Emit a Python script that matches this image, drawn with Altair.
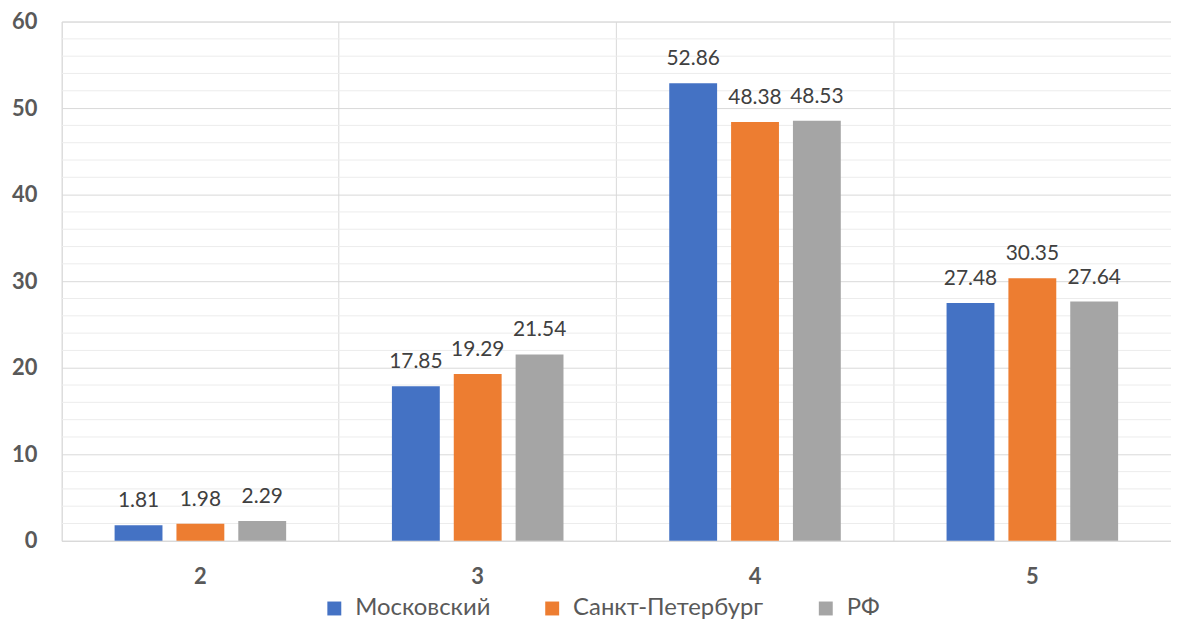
import altair as alt
import pandas as pd

categories = ["2", "3", "4", "5"]
series = ["Московский", "Санкт-Петербург", "РФ"]
moscow = [1.81, 17.85, 52.86, 27.48]
spb = [1.98, 19.29, 48.38, 30.35]
rf = [2.29, 21.54, 48.53, 27.64]
colors = ["#4472C4", "#ED7D31", "#A5A5A5"]
major_ticks = [0, 10, 20, 30, 40, 50, 60]
minor_ticks = [v for v in range(2, 60, 2) if v % 10 != 0]

rows = []
for name, vals in zip(series, [moscow, spb, rf]):
    for c, v in zip(categories, vals):
        rows.append({"cat": c, "series": name, "value": v, "label": f"{v:.2f}"})
df = pd.DataFrame(rows)
minor_df = pd.DataFrame({"value": minor_ticks})

FONT = "Lato"
ysc = alt.Scale(domain=[0, 60], nice=False, zero=True)

yaxis = alt.Axis(
    title=None, values=major_ticks, grid=True, gridColor="#d9d9d9",
    ticks=False, domain=False, labelFont=FONT, labelFontSize=22,
    labelFontWeight="bold", labelColor="#595959", labelPadding=25,
)

minor = alt.Chart(minor_df).mark_rule(color="#ececec", strokeWidth=1).encode(
    y=alt.Y("value:Q", scale=ysc, axis=yaxis, title=None)
)

xenc = alt.X(
    "cat:N",
    sort=categories,
    scale=alt.Scale(paddingInner=0, paddingOuter=0),
    title=None,
    axis=alt.Axis(
        title=None, labelAngle=0, grid=True, bandPosition=0, gridColor="#d9d9d9",
        ticks=False, domain=True, domainColor="#d9d9d9", labelFont=FONT,
        labelFontSize=22, labelFontWeight="bold", labelColor="#595959",
        labelPadding=26,
    ),
)
xoff = alt.XOffset("series:N", sort=series, scale=alt.Scale(paddingInner=0.226, paddingOuter=0.855))

bars = alt.Chart(df).mark_bar().encode(
    x=xenc,
    xOffset=xoff,
    y=alt.Y("value:Q", scale=ysc, axis=yaxis, title=None),
    color=alt.Color(
        "series:N", sort=series, scale=alt.Scale(domain=series, range=colors),
        legend=alt.Legend(
            title=None, orient="none", direction="horizontal", legendX=262, legendY=578,
            symbolType="square", symbolSize=196, symbolStrokeWidth=0, labelFont=FONT,
            labelFontSize=24, labelColor="#595959", labelOffset=9, columnPadding=50,
            labelLimit=400,
        ),
    ),
)

labels = alt.Chart(df).mark_text(
    font=FONT, fontSize=21, color="#404040", baseline="alphabetic", dy=-18
).encode(
    x=xenc,
    xOffset=xoff,
    y=alt.Y("value:Q", scale=ysc, axis=yaxis, title=None),
    text="label:N",
)

chart = alt.layer(minor, bars, labels).properties(
    width=1115, height=522,
    autosize=alt.AutoSizeParams(type="none"),
    padding={"left": 54, "top": 12, "right": 0, "bottom": 82},
).configure_view(stroke="#d9d9d9", strokeWidth=1).configure(background="white")

chart.save("out.html", embed_options={"renderer": "svg", "actions": False})
